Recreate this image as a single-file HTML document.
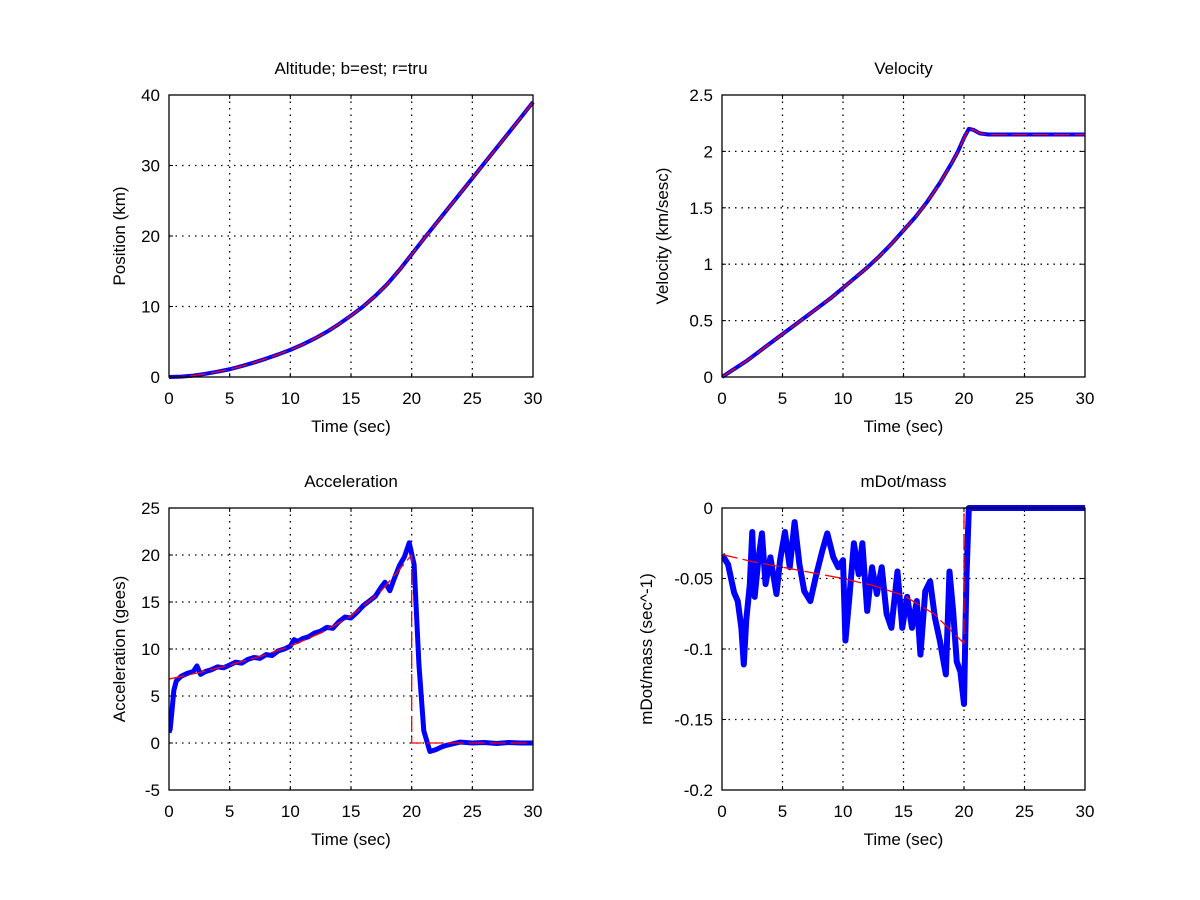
<!DOCTYPE html>
<html><head><meta charset="utf-8"><style>
html,body{margin:0;padding:0;background:#fff;}
svg{display:block;font-family:"Liberation Sans",sans-serif;}
</style></head><body>
<svg id="fig" width="1200" height="900" viewBox="0 0 1200 900"></svg>
<script>
// ---------- data ----------
const xTicks = [0,5,10,15,20,25,30];
const posTicks = [0,10,20,30,40];
const velTicks = [0,0.5,1,1.5,2,2.5];
const accTicks = [-5,0,5,10,15,20,25];
const mdotTicks = [-0.2,-0.15,-0.1,-0.05,0];

const posT = [0,1,2,3,4,5,6,7,8,9,10,11,12,13,14,15,16,17,18,19,20,21,22,23,24,25,26,27,28,29,30];
const posV = [0,0.05,0.2,0.45,0.75,1.1,1.55,2.05,2.6,3.2,3.85,4.6,5.45,6.4,7.5,8.7,10,11.5,13.2,15.2,17.4,19.6,21.75,23.9,26.05,28.2,30.35,32.5,34.65,36.8,39.0];

const velT = [0,1,2,3,4,5,6,7,8,9,10,11,12,13,14,15,16,17,18,19,19.5,20,20.4,20.8,21.3,22,30];
const velV = [0,0.07,0.14,0.22,0.3,0.38,0.46,0.54,0.62,0.7,0.79,0.88,0.97,1.07,1.18,1.3,1.42,1.56,1.72,1.9,2.0,2.12,2.2,2.19,2.16,2.15,2.15];

const accEstT = [0,0.1,0.25,0.4,0.6,1,1.5,2,2.3,2.6,3,3.5,4,4.5,5,5.5,6,6.5,7,7.5,8,8.5,9,9.5,10,10.3,10.6,11,11.5,12,12.5,13,13.5,14,14.5,15,15.5,16,16.5,17,17.5,17.8,18.2,18.6,19,19.4,19.8,20.2,20.6,21,21.5,22,22.5,23,24,25,26,27,28,29,30];
const accEstV = [1.1,1.5,3.5,5.6,6.6,7.1,7.4,7.6,8.2,7.3,7.6,7.8,8.1,8.0,8.3,8.6,8.5,8.9,9.1,9.0,9.4,9.3,9.8,10.0,10.3,11.0,10.8,11.1,11.3,11.7,11.9,12.3,12.2,12.9,13.4,13.3,13.9,14.6,15.1,15.6,16.6,17.1,16.2,17.6,18.9,19.8,21.3,19.0,8.3,1.3,-0.9,-0.7,-0.4,-0.2,0.1,0,0.05,-0.05,0.05,0,0];
const accTruT = [0,2.5,5,7.5,10,12.5,15,17.5,20,20,30];
const accTruV = [6.8,7.5,8.3,9.2,10.3,11.7,13.5,16.2,20,0,0];

const mdEstT = [0,0.5,1,1.3,1.6,1.8,2.0,2.3,2.5,2.7,3.0,3.3,3.6,4,4.5,4.8,5.2,5.6,6,6.4,6.8,7.3,7.8,8.3,8.7,9.2,9.6,10,10.2,10.5,10.9,11.3,11.6,12,12.4,12.8,13.2,13.6,14,14.5,14.9,15.3,15.7,16.1,16.4,16.8,17.2,17.6,18,18.5,18.8,19.1,19.4,19.7,20.0,20.2,20.4,30];
const mdEstV = [-0.033,-0.04,-0.06,-0.066,-0.085,-0.111,-0.08,-0.054,-0.017,-0.063,-0.037,-0.018,-0.054,-0.035,-0.061,-0.037,-0.017,-0.042,-0.01,-0.04,-0.059,-0.066,-0.047,-0.03,-0.018,-0.035,-0.042,-0.037,-0.094,-0.066,-0.025,-0.047,-0.025,-0.073,-0.042,-0.061,-0.042,-0.075,-0.085,-0.045,-0.085,-0.063,-0.085,-0.066,-0.104,-0.059,-0.052,-0.078,-0.094,-0.118,-0.045,-0.073,-0.109,-0.116,-0.139,-0.05,0,0];
const mdTruT = [0,2.5,5,7.5,10,12.5,15,17.5,20,20,30];
const mdTruV = [-0.033,-0.038,-0.042,-0.046,-0.05,-0.055,-0.062,-0.075,-0.096,0,0];

// ---------- drawing ----------
const NS = "http://www.w3.org/2000/svg";
const svg = document.getElementById('fig');
function mk(tag, attrs, parent){
  const e = document.createElementNS(NS, tag);
  for (const k in attrs) e.setAttribute(k, attrs[k]);
  (parent||svg).appendChild(e);
  return e;
}
function fmt(v){ return String(Math.round(v*100)/100); }

function panel(cfg){
  const g = mk('g', {});
  
  
  const L=cfg.x0, R=cfg.x1, T=cfg.y0, B=cfg.y1;
  const xs = t => L + (t-0)/(30-0)*(R-L);
  const ys = v => B - (v-cfg.ymin)/(cfg.ymax-cfg.ymin)*(B-T);
  mk('rect',{x:L,y:T,width:R-L,height:B-T,fill:'#fff',stroke:'none'},g);
  xTicks.forEach(t=>{
    if (t>0 && t<30){ const gl=mk('line',{x1:xs(t),x2:xs(t),y1:T,y2:B,stroke:'#000','stroke-width':1.3,'stroke-dasharray':'1.5,5'},g);
        }
    const tl=mk('text',{x:xs(t),y:B+27,'font-size':17,'text-anchor':'middle',fill:'#000'},g);
    tl.textContent=String(t);
     
    mk('line',{x1:xs(t),x2:xs(t),y1:B,y2:B-4,stroke:'#000'},g);
    mk('line',{x1:xs(t),x2:xs(t),y1:T,y2:T+4,stroke:'#000'},g);
  });
  cfg.ticks.forEach(v=>{
    const y=ys(v);
    if (Math.abs(y-T)>1 && Math.abs(y-B)>1){ const gl=mk('line',{x1:L,x2:R,y1:y,y2:y,stroke:'#000','stroke-width':1.3,'stroke-dasharray':'1.5,5'},g);
        }
    const tl=mk('text',{x:L-9,y:y+6,'font-size':17,'text-anchor':'end',fill:'#000'},g);
    tl.textContent=fmt(v);
     
    mk('line',{x1:L,x2:L+4,y1:y,y2:y,stroke:'#000'},g);
    mk('line',{x1:R,x2:R-4,y1:y,y2:y,stroke:'#000'},g);
  });
  const clipId='clip'+cfg.name;
  const cp=mk('clipPath',{id:clipId},g); mk('rect',{x:L,y:T-3,width:R-L+2,height:B-T+6},cp);
  function series(tArr,vArr,attrs,nm){
    const d=tArr.map((t,i)=>(i?'L':'M')+xs(t).toFixed(2)+','+ys(vArr[i]).toFixed(2)).join('');
    const p=mk('path',Object.assign({d:d,fill:'none','clip-path':'url(#'+clipId+')','stroke-linejoin':'round'},attrs),g);
     
  }
  series(cfg.et,cfg.ev,{stroke:'#0000ff','stroke-width':cfg.bw},'estimate-line');
  series(cfg.tt,cfg.tv,{stroke:'#ff0000','stroke-width':1.3,'stroke-dasharray':'16,5'},'true-line');
  const fr=mk('rect',{x:L,y:T,width:R-L,height:B-T,fill:'none',stroke:'#000','stroke-width':1.3},g);
   
  const ti=mk('text',{x:(L+R)/2,y:T-21,'font-size':17,'text-anchor':'middle',fill:'#000'},g);
  ti.textContent=cfg.title;  
  const xl=mk('text',{x:(L+R)/2,y:B+55,'font-size':17,'text-anchor':'middle',fill:'#000'},g);
  xl.textContent='Time (sec)';  
  const yx=cfg.ylx, yy=(T+B)/2;
  const yl=mk('text',{x:yx,y:yy,'font-size':17,'text-anchor':'middle',fill:'#000',transform:'rotate(-90 '+yx+' '+yy+')'},g);
  yl.textContent=cfg.ylabel;  
}

panel({name:'altitude-plot',x0:169,x1:533,y0:95,y1:377,ymin:0,ymax:40,ticks:posTicks,title:'Altitude; b=est; r=tru',ylabel:'Position (km)',ylx:125,et:posT,ev:posV,tt:posT,tv:posV,bw:4});
panel({name:'velocity-plot',x0:722,x1:1085,y0:95,y1:377,ymin:0,ymax:2.5,ticks:velTicks,title:'Velocity',ylabel:'Velocity (km/sesc)',ylx:668,et:velT,ev:velV,tt:velT,tv:velV,bw:4});
panel({name:'acceleration-plot',x0:169,x1:533,y0:508,y1:790,ymin:-5,ymax:25,ticks:accTicks,title:'Acceleration',ylabel:'Acceleration (gees)',ylx:125,et:accEstT,ev:accEstV,tt:accTruT,tv:accTruV,bw:5});
panel({name:'mdot-mass-plot',x0:722,x1:1085,y0:508,y1:790,ymin:-0.2,ymax:0,ticks:mdotTicks,title:'mDot/mass',ylabel:'mDot/mass (sec^-1)',ylx:652,et:mdEstT,ev:mdEstV,tt:mdTruT,tv:mdTruV,bw:6});
</script>
</body></html>
